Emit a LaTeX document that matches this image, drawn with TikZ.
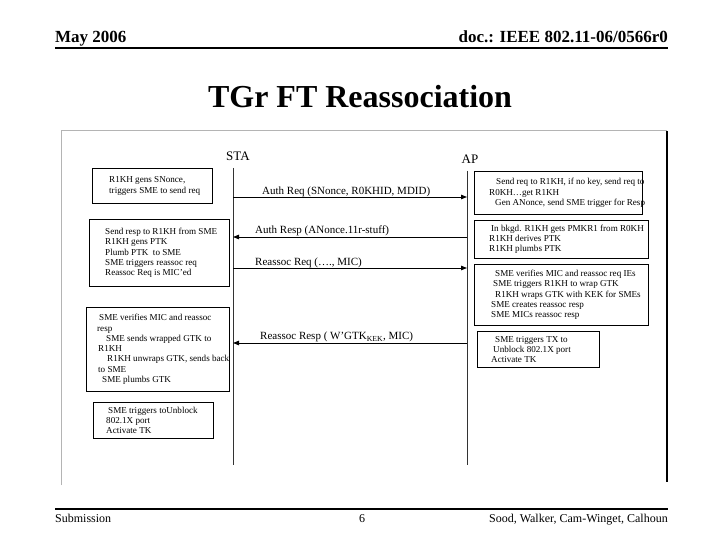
\documentclass[tikz,border=0pt]{standalone}
\usepackage{fontspec}
\setmainfont{Liberation Serif}
\usetikzlibrary{arrows.meta,positioning}
\definecolor{framegray}{HTML}{B4B4B4}
\definecolor{lifegray}{HTML}{333333}
\tikzset{
  notebox/.style={
    draw=black,
    line width=0.8pt,
    anchor=north west,
    inner sep=0pt
  },
  notetext/.style={
    align=left,
    inner sep=0pt,
    font=\fontsize{9.1}{10.3}\selectfont
  },
  msgarrow/.style={
    -{Triangle[length=6pt,width=4.5pt]},
    line width=0.9pt,
    draw=black
  },
  msglabel/.style={
    anchor=base west,
    inner sep=0pt,
    font=\fontsize{11}{13}\selectfont
  },
  lifeline/.style={
    line width=1pt,
    draw=lifegray
  },
  rolelabel/.style={
    inner sep=0pt,
    font=\fontsize{13}{15}\selectfont
  },
  headtext/.style={
    inner sep=0pt,
    font=\bfseries\fontsize{17}{20}\selectfont
  },
  foottext/.style={
    inner sep=0pt,
    font=\fontsize{12}{14}\selectfont
  }
}

\begin{document}
\begin{tikzpicture}[x=1pt, y=-1pt]
    \useasboundingbox (0,0) rectangle (720,540);
    \fill[white] (0,0) rectangle (720,540);

    % slide header and footer
    \node[headtext, anchor=base west] (date) at (55,43) {May 2006};
    \node[headtext, anchor=base east] (docid) at (668,43) {doc.: IEEE 802.11-06/0566r0};
    \draw[line width=2pt] (55,48) -- (668,48);
    \node[anchor=base, inner sep=0pt, font=\bfseries\fontsize{32}{36}\selectfont] (title) at (360,108) {TGr FT Reassociation};
    \draw[line width=2pt] (55,509) -- (668,509);
    \node[foottext, anchor=base west] (sub) at (55,522) {Submission};
    \node[foottext, anchor=base] (page) at (362,522) {6};
    \node[foottext, anchor=base east] (authors) at (668,522) {Sood, Walker, Cam-Winget, Calhoun};

    % picture frame
    \draw[framegray, line width=1pt] (61,485) -- (61,131) -- (667,131);
    \draw[black, line width=1.2pt] (667,131) -- (667,482);

    % roles and lifelines
    \node[rolelabel] (sta) at (238,156) {STA};
    \node[rolelabel] (ap) at (470,159) {AP};
    \coordinate (staTop) at (233,168);
    \coordinate (staBot) at (233,465);
    \coordinate (apTop) at (467,171);
    \coordinate (apBot) at (467,465);
    \draw[lifeline] (staTop) -- (staBot);
    \draw[lifeline] (apTop) -- (apBot);

    % STA side
    \node[notebox, minimum width=120pt, minimum height=35pt] (stabox1) at (92,168) {};
    \node[notetext, right=17pt of stabox1.west] (statext1) {R1KH gens SNonce,\\triggers SME to send req};
    \node[notebox, minimum width=140pt, minimum height=67pt] (stabox2) at (89,219) {};
    \node[notetext, right=16pt of stabox2.west] (statext2) {Send resp to R1KH from SME\\R1KH gens PTK\\Plumb PTK\ \ to SME\\SME triggers reassoc req\\Reassoc Req is MIC'ed};
    \node[notebox, minimum width=143pt, minimum height=84pt] (stabox3) at (86,307) {};
    \node[notetext, right=11pt of stabox3.west] (statext3) {\hspace*{2pt}SME verifies MIC and reassoc\\resp\\\hspace*{9pt}SME sends wrapped GTK to\\\hspace*{1pt}R1KH\\\hspace*{10pt}R1KH unwraps GTK, sends back\\\hspace*{1pt}to SME\\\hspace*{5pt}SME plumbs GTK};
    \node[notebox, minimum width=120pt, minimum height=36pt] (stabox4) at (93,402) {};
    \node[notetext, right=13pt of stabox4.west] (statext4) {\hspace*{2pt}SME triggers toUnblock\\802.1X port\\Activate TK};

    % AP side
    \node[notebox, minimum width=168pt, minimum height=43pt] (apbox1) at (474,171) {};
    \node[notetext, right=15pt of apbox1.west] (aptext1) {\hspace*{7pt}Send req to R1KH, if no key, send req to\\R0KH…get R1KH\\\hspace*{6pt}Gen ANonce, send SME trigger for Resp};
    \node[notebox, minimum width=174pt, minimum height=38pt] (apbox2) at (474,220) {};
    \node[notetext, right=15pt of apbox2.west] (aptext2) {\hspace*{2pt}In bkgd. R1KH gets PMKR1 from R0KH\\R1KH derives PTK\\R1KH plumbs PTK};
    \node[notebox, minimum width=174pt, minimum height=61pt] (apbox3) at (474,264) {};
    \node[notetext, right=17pt of apbox3.west] (aptext3) {\hspace*{4pt}SME verifies MIC and reassoc req IEs\\\hspace*{2pt}SME triggers R1KH to wrap GTK\\\hspace*{4pt}R1KH wraps GTK with KEK for SMEs\\SME creates reassoc resp\\SME MICs reassoc resp};
    \node[notebox, minimum width=122pt, minimum height=36pt] (apbox4) at (477,331) {};
    \node[notetext, right=14pt of apbox4.west] (aptext4) {\hspace*{4pt}SME triggers TX to\\\hspace*{2pt}Unblock 802.1X port\\Activate TK};

    % messages
    \coordinate (staReq) at (233,197);
    \coordinate (apReq) at (467,197);
    \coordinate (apResp) at (467,237);
    \coordinate (staResp) at (233,237);
    \coordinate (staRa) at (233,268);
    \coordinate (apRa) at (467,268);
    \coordinate (apRr) at (467,343);
    \coordinate (staRr) at (233,343);
    \draw[msgarrow] (staReq) -- (apReq);
    \node[msglabel] (authreq) at (262,194.5) {Auth Req (SNonce, R0KHID, MDID)};
    \draw[msgarrow] (apResp) -- (staResp);
    \node[msglabel] (authresp) at (255,233.5) {Auth Resp (ANonce.11r-stuff)};
    \draw[msgarrow] (staRa) -- (apRa);
    \node[msglabel] (rareq) at (255,265.5) {Reassoc Req (…., MIC)};
    \draw[msgarrow] (apRr) -- (staRr);
    \node[msglabel] (raresp) at (260,339.5) {Reassoc Resp ( W'GTK\textsubscript{KEK}, MIC)};
\end{tikzpicture}
\end{document}
